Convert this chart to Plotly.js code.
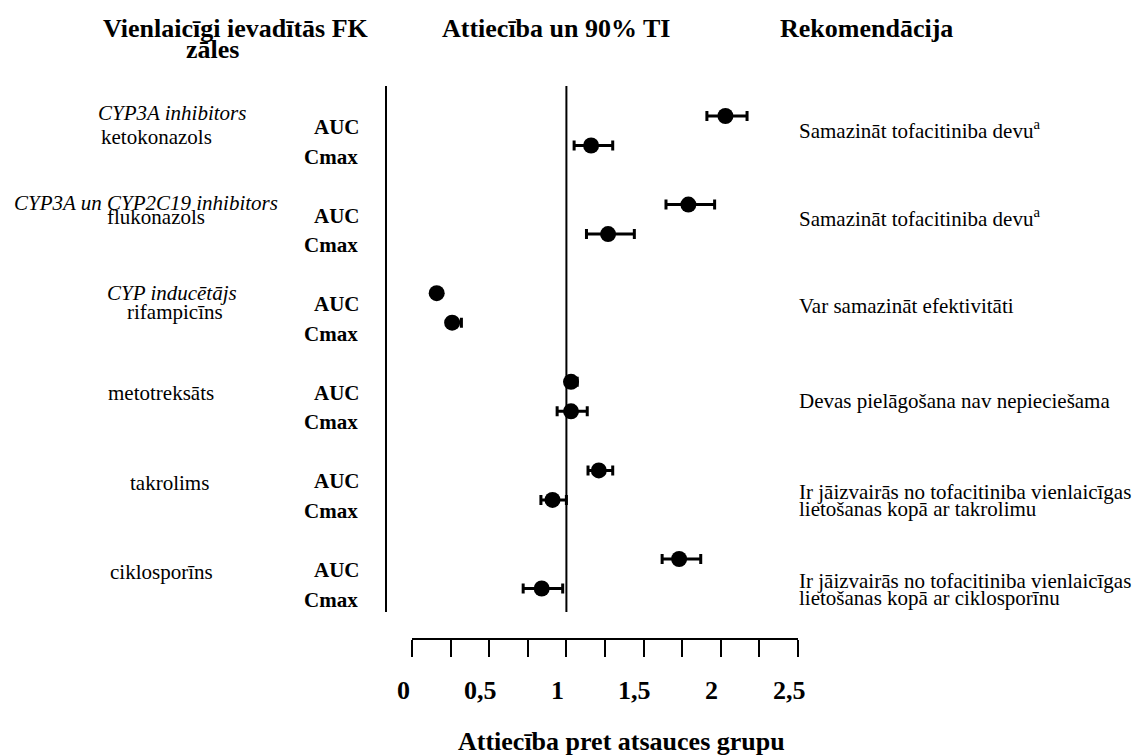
<!DOCTYPE html>
<html><head><meta charset="utf-8">
<script src="https://cdn.plot.ly/plotly-3.0.1.min.js"></script>
<style>html,body{margin:0;padding:0;background:#fff;}#chart{width:1136px;height:756px;}</style>
</head><body><div id="chart"></div>
<script>
const drugs = ['ketokonazols','flukonazols','rifampicīns','metotreksāts','takrolims','ciklosporīns'];
const drugClasses = ['CYP3A inhibitors','CYP3A un CYP2C19 inhibitors','CYP inducētājs','','',''];
const aucRatio = [2.03, 1.79, 0.16, 1.03, 1.21, 1.73];
const aucLow   = [1.91, 1.645, 0.15, 1.00, 1.14, 1.62];
const aucHigh  = [2.17, 1.96, 0.18, 1.07, 1.30, 1.87];
const cmaxRatio = [1.16, 1.27, 0.26, 1.03, 0.91, 0.84];
const cmaxLow   = [1.05, 1.13, 0.24, 0.94, 0.835, 0.72];
const cmaxHigh  = [1.30, 1.44, 0.32, 1.135, 1.00, 0.976];
const recommendations = [
  ['Samazināt tofacitiniba devu<sup>a</sup>'],
  ['Samazināt tofacitiniba devu<sup>a</sup>'],
  ['Var samazināt efektivitāti'],
  ['Devas pielāgošana nav nepieciešama'],
  ['Ir jāizvairās no tofacitiniba vienlaicīgas','lietošanas kopā ar takrolimu'],
  ['Ir jāizvairās no tofacitiniba vienlaicīgas','lietošanas kopā ar ciklosporīnu']
];
const tickValues = [0, 0.5, 1, 1.5, 2, 2.5];
const tickLabels = ['0','0,5','1','1,5','2','2,5'];
const metricLabels = ['AUC','Cmax'];
const headers = ['Vienlaicīgi ievadītās FK', 'zāles', 'Attiecība un 90% TI', 'Rekomendācija'];
const xTitle = 'Attiecība pret atsauces grupu';

const W = 1136, H = 756;
const FONT = 'Liberation Serif, Times New Roman, serif';
const rowY0 = 116, groupStep = 88.6, pairStep = 29.5;
const aucY = drugs.map((d,i)=> rowY0 + i*groupStep);
const cmaxY = aucY.map(y => y + pairStep);
const px = v => v / W;

function errTrace(vals, lo, hi, ys){
  return {
    type:'scatter', mode:'markers', x: vals, y: ys,
    marker:{size:16, color:'#000'},
    error_x:{type:'data', symmetric:false,
      array: vals.map((v,i)=> hi[i]-v), arrayminus: vals.map((v,i)=> v-lo[i]),
      color:'#000', thickness:3, width:5},
    hoverinfo:'none', showlegend:false, cliponaxis:false
  };
}

const traces = [errTrace(aucRatio, aucLow, aucHigh, aucY), errTrace(cmaxRatio, cmaxLow, cmaxHigh, cmaxY)];

const ann = [];
const A = (o) => ann.push(Object.assign({showarrow:false, xref:'paper', yref:'y', xanchor:'center', yanchor:'middle',
  font:{family:FONT, size:21, color:'#000'}}, o));
const HF = {family:FONT, size:26, color:'#000'};

// headers
A({x:px(236), y:28, text:'<b>'+headers[0]+'</b>', font:HF});
A({x:px(212), y:49, text:'<b>'+headers[1]+'</b>', font:HF});
A({x:px(556), y:28, text:'<b>'+headers[2]+'</b>', font:HF});
A({x:px(866), y:28, text:'<b>'+headers[3]+'</b>', font:HF});
A({x:px(621), y:741, text:'<b>'+xTitle+'</b>', font:HF});

// group labels
const classPos = [[172,113],[146,203],[172,293]];
const drugPos = [[156,137],[156,217],[175,312],[161,393],[169,483],[161,572]];
drugs.forEach((d,i)=>{
  if (drugClasses[i]) A({x:px(classPos[i][0]), y:classPos[i][1], text:'<i>'+drugClasses[i]+'</i>'});
  A({x:px(drugPos[i][0]), y:drugPos[i][1], text:d});
  A({x:px(362), y:aucY[i]+11, text:'<b>'+metricLabels[0]+'</b>', xanchor:'right'});
  A({x:px(360), y:cmaxY[i]+11, text:'<b>'+metricLabels[1]+'</b>', xanchor:'right'});
  const rec = recommendations[i];
  if (rec.length === 1) {
    A({x:px(797), y: aucY[i]+(i===3?19:13), text:rec[0], xanchor:'left'});
  } else {
    A({x:px(797), y: aucY[i]+22, text:rec[0], xanchor:'left'});
    A({x:px(797), y: aucY[i]+39, text:rec[1], xanchor:'left'});
  }
});

// tick labels
tickValues.forEach((v,i)=>{
  A({x:v, xref:'x', y:690, text:'<b>'+tickLabels[i]+'</b>', xshift:-9, font:{family:FONT,size:26,color:'#000'}});
});

const layout = {
  width:W, height:H, margin:{l:0,r:0,t:0,b:0},
  paper_bgcolor:'#fff', plot_bgcolor:'rgba(0,0,0,0)',
  showlegend:false,
  xaxis:{domain:[412/W, 798/W], range:[0,2.5], anchor:'free', position:1-639/H,
    showgrid:false, zeroline:false, showline:true, linecolor:'#000', linewidth:2,
    ticks:'outside', ticklen:17, tickwidth:2, tickcolor:'#000', dtick:0.25, tick0:0,
    showticklabels:false, fixedrange:true},
  yaxis:{domain:[0,1], range:[H,0], visible:false, fixedrange:true},
  shapes:[
    {type:'line', xref:'x', yref:'y', x0:1, x1:1, y0:86, y1:612, line:{color:'#000', width:2}},
    {type:'line', xref:'paper', yref:'y', x0:px(386), x1:px(386), y0:86, y1:612, line:{color:'#000', width:2}}
  ],
  annotations: ann
};
Plotly.newPlot('chart', traces, layout, {displayModeBar:false, staticPlot:true});
</script></body></html>
